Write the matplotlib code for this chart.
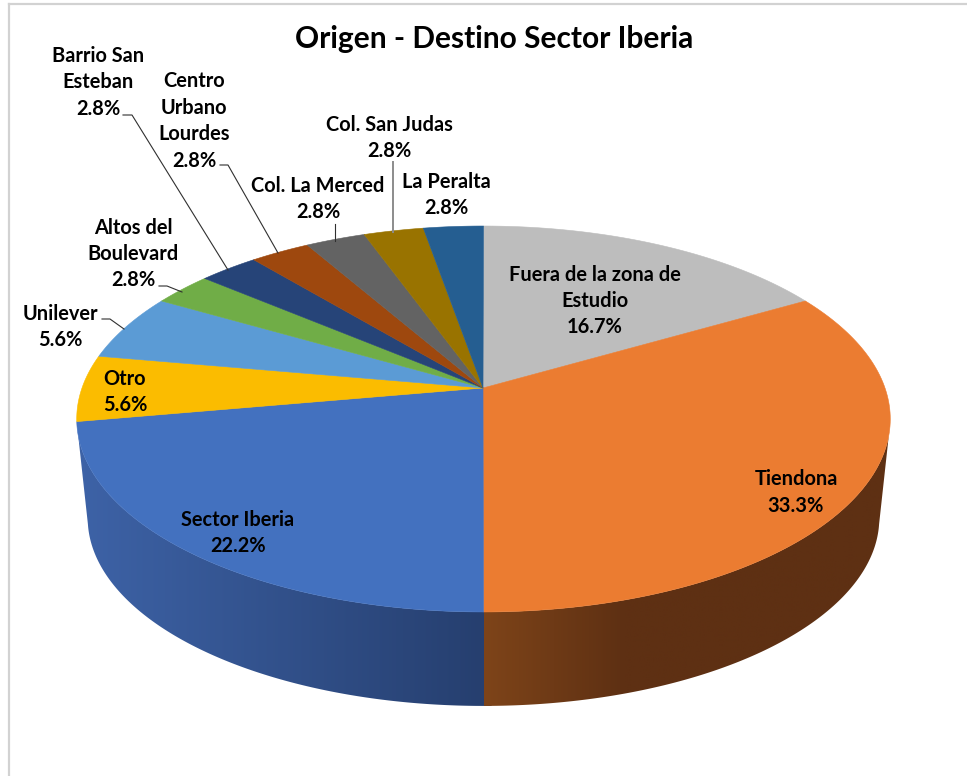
# origen - destino pie chart, 3d look with perspective
import numpy as np
import matplotlib
matplotlib.use('Agg')
import matplotlib.pyplot as plt
from matplotlib.patches import Polygon

plt.rcParams['font.family'] = ['Lato', 'DejaVu Sans']

# trips per destination, clockwise from 12 o'clock
names = ['Fuera de la zona de\nEstudio', 'Tiendona', 'Sector Iberia', 'Otro', 'Unilever',
         'Altos del\nBoulevard', 'Barrio San\nEsteban', 'Centro\nUrbano\nLourdes',
         'Col. La Merced', 'Col. San Judas', 'La Peralta']
values = [6, 12, 8, 2, 2, 1, 1, 1, 1, 1, 1]
colors = ['#BDBDBD', '#EB7C31', '#4371BF', '#FBBC00', '#5B9BD5', '#70AD47',
          '#264478', '#9E480E', '#636363', '#997300', '#255E91']
label_x = [595, 796, 238, 125, 60, 133, 98, 194, 318, 389, 446]
label_y = [301, 492.5, 533, 392, 327, 254, 82.5, 121, 199, 138, 195]

# leader lines (label side -> pie rim)
leaders = [([123, 132, 228], [115, 115, 270]),
           ([220, 228, 278], [165, 165, 253]),
           ([159, 167, 182], [286, 286, 292]),
           ([102, 110, 124], [319, 319, 329]),
           ([335, 335], [224, 241])]

total = sum(values)
edges = np.cumsum([0] + values) / total * 2 * np.pi

# perspective settings, all in pixels
k = 0.1606
rx = 401.5
ry = 188
top_cx, top_cy = 483.5, 388
bot_cy, bot_scale = 488, 0.973


def rim(t, cy, scale):
    w = 1 + k * np.cos(t)
    return top_cx + rx * scale * np.sin(t) / w, cy - ry * scale * np.cos(t) / w


def mix(c1, c2, f):
    c1 = np.array(matplotlib.colors.to_rgb(c1))
    c2 = np.array(matplotlib.colors.to_rgb(c2))
    return c1 + (c2 - c1) * np.asarray(f)[:, None]


fig = plt.figure(figsize=(9.67, 7.76), dpi=100)
ax = fig.add_axes([0, 0, 1, 1])

# chart frame
ax.plot([9, 9], [776, 4], color='#D2D2D2', lw=1.6)
ax.plot([9, 967], [4, 4], color='#D2D2D2', lw=1.6)

# side wall, front half only, gradient clipped to the wall shape
# blue goes first and runs a bit under the orange so no seam shows
for i in [2, 1]:
    if i == 1:
        top_ts = np.linspace(np.radians(104), edges[2], 200)
        bot_ts = np.linspace(edges[2], np.radians(101), 200)
    else:
        top_ts = np.linspace(edges[2] - np.radians(1), np.radians(256), 200)
        bot_ts = np.linspace(np.radians(259), edges[2] - np.radians(1), 200)
    xa, ya = rim(top_ts, top_cy, 1)
    xb, yb = rim(bot_ts, bot_cy, bot_scale)
    wall = Polygon(np.c_[np.r_[xa, xb], np.r_[ya, yb]], closed=True, transform=ax.transData,
                   facecolor='none', edgecolor='none')
    ax.add_patch(wall)
    x0, x1 = min(xa.min(), xb.min()), max(xa.max(), xb.max())
    gx = np.linspace(x0, x1, 400)
    if i == 1:
        grad = mix('#7E4419', '#5E3013', np.clip((gx - 483) / 140, 0, 1))
    else:
        grad = mix('#3D62A6', '#263F6F', np.clip((gx - 85) / 398, 0, 1))
    im = ax.imshow(grad[None, :, :], extent=(x0, x1, 720, 400), aspect='auto',
                   interpolation='bilinear', zorder=2 + (i == 1) * 0.1)
    im.set_clip_path(wall)

ax.set_xlim(0, 967)
ax.set_ylim(776, 0)
ax.axis('off')

# top face
for i in range(len(values)):
    ts = np.linspace(edges[i], edges[i + 1], 120)
    xs, ys = rim(ts, top_cy, 1)
    ax.fill(np.r_[483, xs], np.r_[top_cy, ys], facecolor=colors[i],
            edgecolor=colors[i], lw=0.4, zorder=3)

for xs, ys in leaders:
    ax.plot(xs, ys, color='#303030', lw=0.8, zorder=4)
ax.plot([393, 393], [162, 232], color='#8C8C8C', lw=1.4, zorder=4)

for i in range(len(values)):
    pct = values[i] / total * 100
    ax.text(label_x[i], label_y[i], f'{names[i]}\n{pct:.1f}%', ha='center', va='center',
            fontsize=14.4, fontweight='bold', color='black', linespacing=1.4, zorder=5)

ax.text(494, 39, 'Origen - Destino Sector Iberia', ha='center', va='center',
        fontsize=21.5, fontweight='bold', color='black', zorder=5)

fig.savefig('out.png', dpi=100, facecolor='white')
